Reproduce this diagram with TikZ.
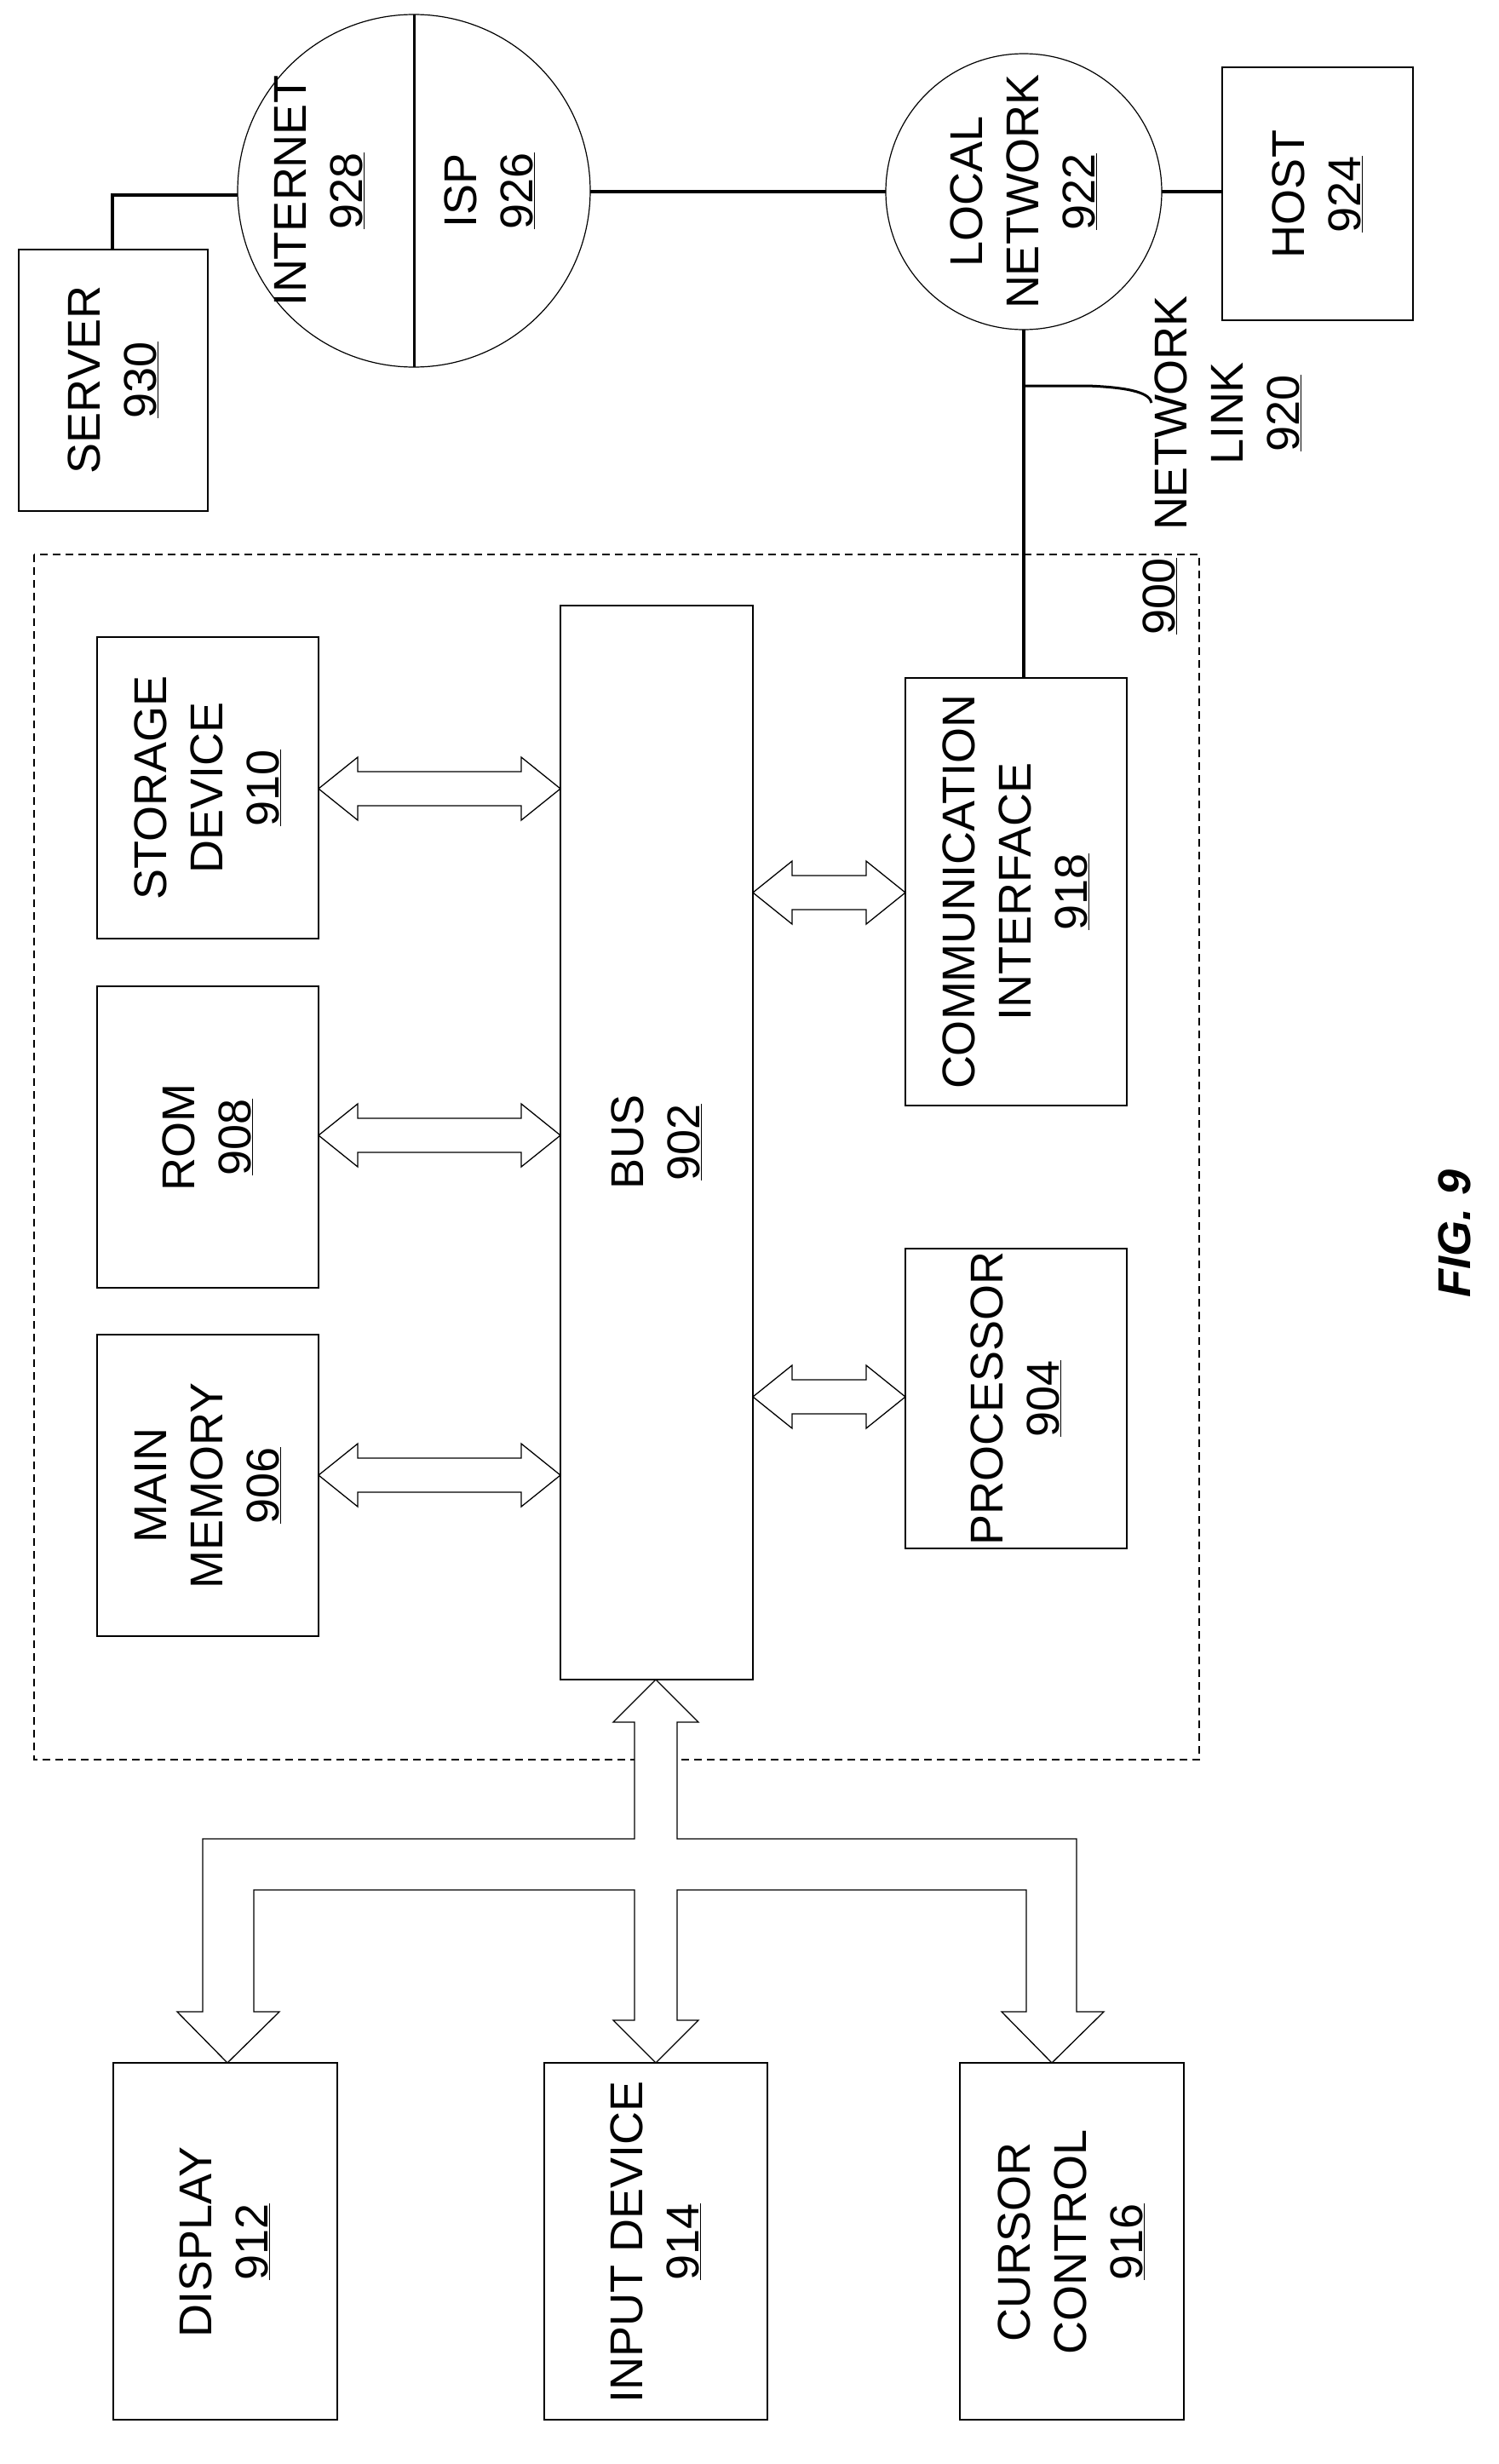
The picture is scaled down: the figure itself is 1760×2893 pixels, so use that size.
\documentclass[tikz,border=0pt]{standalone}
\usepackage{fontspec}
\setmainfont{Liberation Sans}
\begin{document}
\begin{tikzpicture}[x=1pt,y=-1pt,
  box/.style={draw,line width=1.5pt},
  lbl/.style={rotate=90,align=center,font=\fontsize{54}{66}\selectfont,inner sep=0pt},
  harrow/.style={draw,fill=white,line width=1.3pt},
  net/.style={line width=3.5pt}]
\useasboundingbox (0,0) rectangle (1760,2893);
% dashed enclosure
\draw[dashed,line width=1.2pt,dash pattern=on 9pt off 6pt] (40,651) rectangle (1408,2066);
\node[lbl] (l900) at (1362,700) {\underline{900}};
% boxes
\draw[box] (22,293) rectangle (244,600);
\node[lbl] (server) at (133,446) {SERVER\\\underline{930}};
\draw[line width=1.2pt] (486,224) circle (207);
\draw[line width=3pt] (486,17) -- (486,431);
\node[lbl] (internet) at (375,224) {INTERNET\\\underline{928}};
\node[lbl] (isp) at (575,224) {ISP\\\underline{926}};
\draw[line width=1.2pt] (1202,225) circle (162);
\node[lbl] (ln) at (1202,225) {LOCAL\\NETWORK\\\underline{922}};
\draw[box] (1435,79) rectangle (1659,376);
\node[lbl] (host) at (1547,228) {HOST\\\underline{924}};
\draw[net] (132,293) -- (132,229) -- (279,229);
\draw[net] (693,225) -- (1040,225);
\draw[net] (1364,225) -- (1435,225);
\draw[net] (1202,387) -- (1202,796);
\draw[line width=3pt] (1202,453) -- (1277,453) .. controls (1330,455) and (1350,462) .. (1352,473);
\node[lbl] (nl) at (1442,485) {NETWORK\\LINK\\\underline{920}};
% inner boxes
\draw[box] (114,748) rectangle (374,1102);
\node[lbl] (sd) at (244,925) {STORAGE\\DEVICE\\\underline{910}};
\draw[box] (114,1158) rectangle (374,1512);
\node[lbl] (rom) at (244,1335) {ROM\\\underline{908}};
\draw[box] (114,1567) rectangle (374,1921);
\node[lbl] (mm) at (244,1744) {MAIN\\MEMORY\\\underline{906}};
\draw[box] (658,711) rectangle (884,1972);
\node[lbl] (bus) at (771,1341) {BUS\\\underline{902}};
\draw[box] (1063,796) rectangle (1323,1298);
\node[lbl] (comm) at (1193,1047) {COMMUNICATION\\INTERFACE\\\underline{918}};
\draw[box] (1063,1466) rectangle (1323,1818);
\node[lbl] (proc) at (1193,1642) {PROCESSOR\\\underline{904}};
% double arrows
\newcommand\dbla[3]{\draw[harrow] (#1,#3) -- ({#1+46},{#3-37}) -- ({#1+46},{#3-20}) -- ({#2-46},{#3-20}) -- ({#2-46},{#3-37}) -- (#2,#3) -- ({#2-46},{#3+37}) -- ({#2-46},{#3+20}) -- ({#1+46},{#3+20}) -- ({#1+46},{#3+37}) -- cycle;}
\dbla{374}{658}{926}
\dbla{374}{658}{1333}
\dbla{374}{658}{1732}
\dbla{884}{1063}{1048}
\dbla{884}{1063}{1640}
% bus tree
\draw[harrow] (770,1972) -- (820,2022) -- (795,2022) -- (795,2159) -- (1264,2159) -- (1264,2362) -- (1296,2362) -- (1235,2422) -- (1176,2362) -- (1205,2362) -- (1205,2219) -- (795,2219) -- (795,2372) -- (820,2372) -- (770,2422) -- (720,2372) -- (745,2372) -- (745,2219) -- (298,2219) -- (298,2362) -- (328,2362) -- (267,2422) -- (208,2362) -- (238,2362) -- (238,2159) -- (745,2159) -- (745,2022) -- (720,2022) -- cycle;
% bottom boxes
\draw[box] (133,2422) rectangle (396,2841);
\node[lbl] (disp) at (264,2632) {DISPLAY\\\underline{912}};
\draw[box] (639,2422) rectangle (901,2841);
\node[lbl] (inp) at (770,2632) {INPUT DEVICE\\\underline{914}};
\draw[box] (1127,2422) rectangle (1390,2841);
\node[lbl] (cur) at (1258,2632) {CURSOR\\CONTROL\\\underline{916}};
\node[lbl,font=\fontsize{54}{66}\selectfont\bfseries\itshape] (fig) at (1708,1448) {FIG. 9};
\end{tikzpicture}
\end{document}
